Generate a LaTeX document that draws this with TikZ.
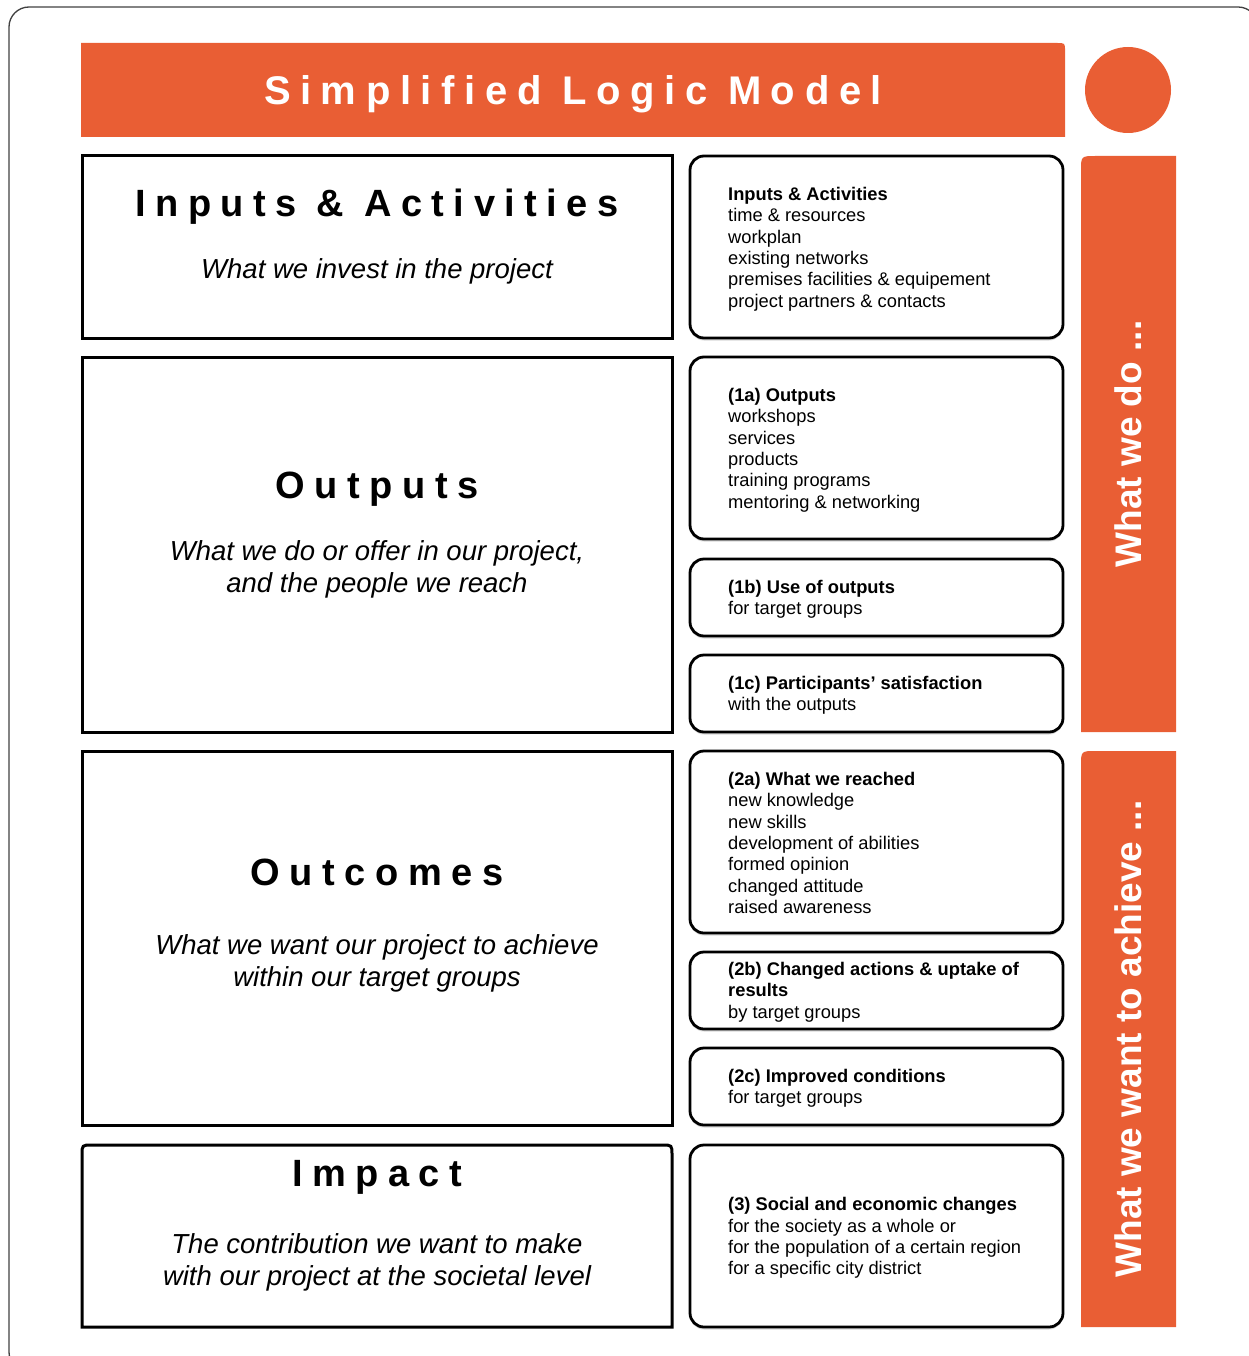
\documentclass[tikz,border=0pt]{standalone}
\usepackage{fontspec}
\setmainfont{Liberation Sans}
% spaced-out caps for the banner and the row headings
\newfontfamily\bannerfont[LetterSpace=24]{Liberation Sans}
\newfontfamily\rowfont[LetterSpace=25]{Liberation Sans}
\usetikzlibrary{shadows}
\definecolor{lmorange}{RGB}{233,94,52}

\begin{document}
\begin{tikzpicture}[x=1pt, y=-1pt,
  leftbox/.style={line width=3},
  rightbox/.style={line width=2.8, rounded corners=14, fill=white,
    drop shadow={shadow xshift=0pt, shadow yshift=-2.5pt, opacity=0.3}},
  heading/.style={anchor=base, font=\fontsize{38}{40}\selectfont\rowfont\bfseries},
  subline/.style={align=center, font=\fontsize{27.5}{32}\selectfont\itshape},
  itemlist/.style={anchor=west, align=left, inner sep=0pt,
    font=\fontsize{18.3}{21.4}\selectfont},
  bartext/.style={rotate=90, text=white, font=\fontsize{37}{40}\selectfont\bfseries}]

  \useasboundingbox (0,0) rectangle (1249,1356);

  % outer frame, running off the page at right and bottom
  \begin{scope}
    \clip (0,0) rectangle (1249,1356);
    \draw[line width=1.3, black!75, rounded corners=20] (9,7) rectangle (1258,1372);
  \end{scope}

  % banner and dot
  \fill[lmorange] (81,137) -- (81,43) -- (1057,43) .. controls (1065,43) .. (1065,51) -- (1065,137) -- cycle;
  \node[anchor=base, text=white, font=\fontsize{40}{42}\selectfont\bannerfont\bfseries]
    (banner) at (573,105) {Simplified Logic Model};
  \fill[lmorange] (1128,90) circle (43);

  % left column
  \draw[leftbox] (82,156) rectangle (672,338);
  \node[heading] (inputs) at (377,217) {Inputs \& Activities};
  \node[subline] (inputsSub) at (377,271) {What we invest in the project};

  \draw[leftbox] (82,357) rectangle (672,732);
  \node[heading] (outputs) at (377,498) {Outputs};
  \node[subline] (outputsSub) at (377,569) {What we do or offer in our project,\\and the people we reach};

  \draw[leftbox] (82,751) rectangle (672,1125);
  \node[heading] (outcomes) at (377,885) {Outcomes};
  \node[subline] (outcomesSub) at (377,963) {What we want our project to achieve\\within our target groups};

  \draw[leftbox] (82,1327) -- (82,1155) .. controls (82,1145) .. (92,1145) -- (662,1145)
    .. controls (672,1145) .. (672,1155) -- (672,1327) -- cycle;
  \node[heading] (impact) at (377,1186) {Impact};
  \node[subline] (impactSub) at (377,1262) {The contribution we want to make\\with our project at the societal level};

  % right column
  \draw[rightbox] (690,156) rectangle (1063,338);
  \node[itemlist] (rInputs) at (728,249) {\textbf{Inputs \& Activities}\\time \& resources\\workplan\\existing networks\\premises facilities \& equipement\\project partners \& contacts};

  \draw[rightbox] (690,357) rectangle (1063,539);
  \node[itemlist] (r1a) at (728,450) {\textbf{(1a) Outputs}\\workshops\\services\\products\\training programs\\mentoring \& networking};

  \draw[rightbox] (690,559) rectangle (1063,636);
  \node[itemlist] (r1b) at (728,599) {\textbf{(1b) Use of outputs}\\for target groups};

  \draw[rightbox] (690,655) rectangle (1063,732);
  \node[itemlist] (r1c) at (728,695) {\textbf{(1c) Participants’ satisfaction}\\with the outputs};

  \draw[rightbox] (690,751) rectangle (1063,933);
  \node[itemlist] (r2a) at (728,843) {\textbf{(2a) What we reached}\\new knowledge\\new skills\\development of abilities\\formed opinion\\changed attitude\\raised awareness};

  \draw[rightbox] (690,952) rectangle (1063,1029);
  \node[itemlist] (r2b) at (728,992) {\textbf{(2b) Changed actions \& uptake of}\\\textbf{results}\\by target groups};

  \draw[rightbox] (690,1048) rectangle (1063,1125);
  \node[itemlist] (r2c) at (728,1088) {\textbf{(2c) Improved conditions}\\for target groups};

  \draw[rightbox] (690,1145) rectangle (1063,1327);
  \node[itemlist] (r3) at (728,1238) {\textbf{(3) Social and economic changes}\\for the society as a whole or\\for the population of a certain region\\for a specific city district};

  % side bars
  \fill[lmorange] (1081,732) -- (1081,171) .. controls (1081,156) .. (1096,156) -- (1176,156) -- (1176,732) -- cycle;
  \node[bartext] (doBar) at (1128.5,444) {What we do ...};

  \fill[lmorange] (1081,1327) -- (1081,766) .. controls (1081,751) .. (1096,751) -- (1176,751) -- (1176,1327) -- cycle;
  \node[bartext] (achieveBar) at (1128.5,1039) {What we want to achieve ...};
\end{tikzpicture}
\end{document}
